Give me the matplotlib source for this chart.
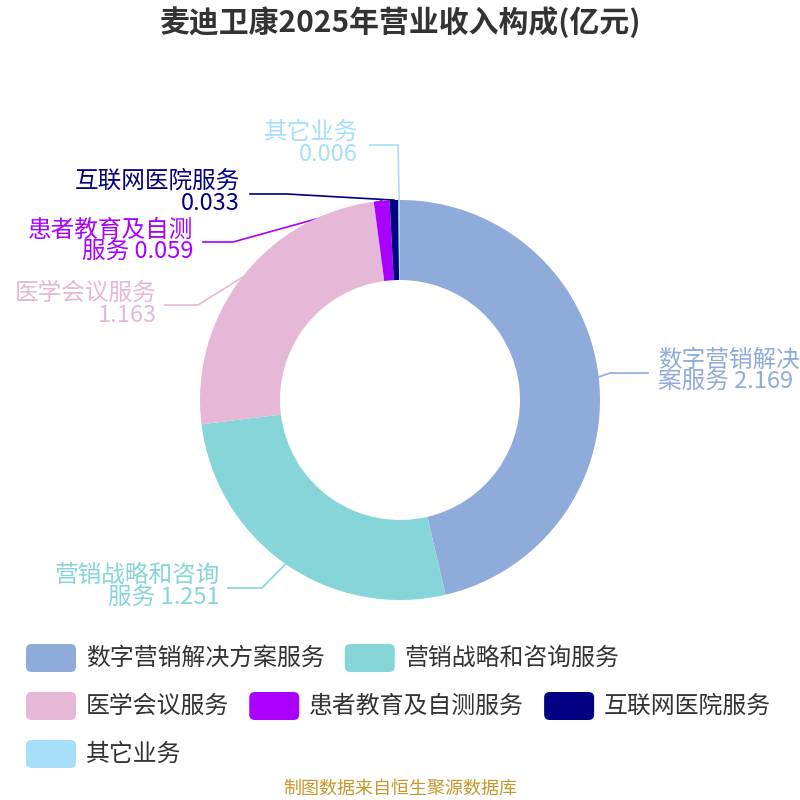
import matplotlib
matplotlib.use('Agg')
import matplotlib.pyplot as plt
from matplotlib.patches import FancyBboxPatch
import numpy as np

plt.rcParams['font.family'] = ['Noto Sans CJK SC', 'DejaVu Sans']

title = '麦迪卫康2025年营业收入构成(亿元)'
categories = ['数字营销解决方案服务', '营销战略和咨询服务', '医学会议服务',
              '患者教育及自测服务', '互联网医院服务', '其它业务']
values = [2.169, 1.251, 1.163, 0.059, 0.033, 0.006]
colors = ['#8EABDA', '#86D5D8', '#E6B8D8', '#AA00FF', '#000080', '#A8DFF8']
source = '制图数据来自恒生聚源数据库'

# label layout in pixels (text anchor, elbow, line end near text)
label_xy = [(658, 371), (220, 587), (157, 304), (193, 241), (240, 192), (358, 143)]
label_ha = ['left', 'right', 'right', 'right', 'right', 'right']
elbow_xy = [(610, 373), (262, 588), (198, 305), (233, 242), (287, 194), (398, 145)]
end_xy = [(648, 373), (228, 588), (165, 305), (203, 242), (250, 194), (370, 145)]

W = H = 800
fig = plt.figure(figsize=(8, 8), dpi=100)
fig.patch.set_facecolor('white')

# donut centred at (400, 400), outer radius 200 px
ax = fig.add_axes([0.25, 0.25, 0.5, 0.5])
ax.axis('off')

wedges, _ = ax.pie(values, colors=colors, startangle=90, counterclock=False,
                   radius=1, wedgeprops=dict(width=0.4, linewidth=0))
ax.set_xlim(-1, 1)
ax.set_ylim(-1, 1)
ax.set_aspect('equal')


def to_data(p):
    return ((p[0] - 400) / 200, (400 - p[1]) / 200)


def wrap_label(cat, val):
    if len(cat) > 7:
        return cat[:7] + '\n' + cat[7:] + ' ' + f'{val:.3f}'
    return cat + '\n' + f'{val:.3f}'


for w, cat, val, col, lxy, ha, exy, nxy in zip(wedges, categories, values, colors,
                                              label_xy, label_ha, elbow_xy, end_xy):
    mid = np.deg2rad((w.theta1 + w.theta2) / 2)
    start = (np.cos(mid), np.sin(mid))
    e = to_data(exy)
    n = to_data(nxy)
    # leader lines sit beneath the slices, as in the original
    ax.plot([start[0], e[0], n[0]], [start[1], e[1], n[1]], color=col,
            lw=1.2, zorder=0.5, clip_on=False)
    tx, ty = to_data(lxy)
    ax.text(tx, ty, wrap_label(cat, val), color=col, fontsize=17, ha=ha,
            va='center', multialignment=ha, linespacing=0.95, clip_on=False)

fig.text(0.5, 1 - 22 / H, title, ha='center', va='center', fontsize=21.5,
         fontweight='bold', color='#333333')

# legend laid out as flowing rows
renderer = fig.canvas.get_renderer()
box_w, box_h, gap_txt, gap_item = 50, 28, 10, 20
row_y = 658
x = 26
for cat, col in zip(categories, colors):
    t = fig.text(0, 0, cat, fontsize=17.2, color='#333333', va='center')
    tw = t.get_window_extent(renderer).width
    if x + box_w + gap_txt + tw > W - 10:
        x = 26
        row_y += 48
    t.set_position(((x + box_w + gap_txt) / W, 1 - row_y / H))
    box = FancyBboxPatch((x / W, 1 - (row_y + box_h / 2) / H), box_w / W, box_h / H,
                         boxstyle='round,pad=0,rounding_size=0.007',
                         transform=fig.transFigure, facecolor=col, edgecolor='none')
    fig.patches.append(box)
    x += box_w + gap_txt + tw + gap_item

fig.text(0.5, 1 - 789 / H, source, ha='center', va='center', fontsize=13,
         color='#C9962B')

fig.savefig('out.png', dpi=100)
